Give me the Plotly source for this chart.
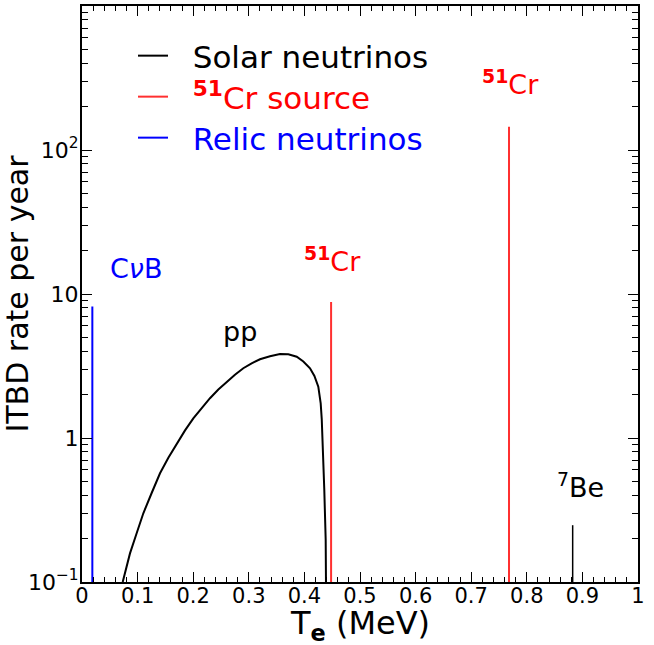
import math
import plotly.graph_objects as go

# pp solar neutrino spectrum (T_e in MeV, rate per year)
pp_T = [0.0732, 0.0803, 0.0863, 0.0983, 0.1103, 0.1253, 0.1403, 0.1553, 0.1703, 0.1853,
        0.2002, 0.2152, 0.2302, 0.2452, 0.2603, 0.2751, 0.2901, 0.3051, 0.3201, 0.3381,
        0.3561, 0.3711, 0.3862, 0.3981, 0.4101, 0.4180, 0.4250, 0.4293, 0.4312,
        0.4329, 0.4358, 0.4383, 0.4388]
pp_rate = [0.100, 0.128, 0.158, 0.218, 0.300, 0.415, 0.569, 0.730, 0.918, 1.13,
           1.37, 1.62, 1.89, 2.17, 2.46, 2.75, 3.05, 3.30, 3.52, 3.70,
           3.83, 3.82, 3.67, 3.40, 3.05, 2.70, 2.27, 1.74, 1.35,
           0.97, 0.435, 0.196, 0.100]

be7_T = 0.8825
be7_rate = 0.248

cr_T = [0.448, 0.768]
cr_rate = [8.8, 145.0]

cnb_T = 0.0186
cnb_rate = 8.2

floor = 0.1

FONT = "DejaVu Sans"

fig = go.Figure()

fig.add_trace(go.Scatter(x=pp_T, y=pp_rate, mode="lines",
                         line=dict(color="black", width=2),
                         name="&nbsp;&nbsp;Solar neutrinos", legend="legend"))
fig.add_trace(go.Scatter(x=[be7_T, be7_T], y=[floor, be7_rate], mode="lines",
                         line=dict(color="black", width=1.5),
                         showlegend=False))

cx, cy = [], []
for t, r in zip(cr_T, cr_rate):
    cx += [t, t, None]
    cy += [floor, r, None]
fig.add_trace(go.Scatter(x=cx, y=cy, mode="lines",
                         line=dict(color="#ff3030", width=2),
                         name="&nbsp;&nbsp;<span style='color:red'><sup><b>51</b></sup>Cr source</span>",
                         legend="legend2"))
fig.add_trace(go.Scatter(x=[cnb_T, cnb_T], y=[floor, cnb_rate], mode="lines",
                         line=dict(color="blue", width=2),
                         name="&nbsp;&nbsp;<span style='color:blue'>Relic neutrinos</span>",
                         legend="legend3"))

ann_font = dict(family=FONT, size=27)
annotations = [
    dict(x=0.097, y=15.1, text="C<i>ν</i>B", font=dict(ann_font, color="blue")),
    dict(x=0.4505, y=17.3, text="<sup><b>51</b></sup>Cr", font=dict(ann_font, color="red")),
    dict(x=0.7707, y=292, text="<sup><b>51</b></sup>Cr", font=dict(ann_font, color="red")),
    dict(x=0.285, y=5.45, text="pp", font=dict(ann_font, color="black")),
    dict(x=0.897, y=0.467, text="<sup>7</sup>Be", font=dict(ann_font, color="black")),
]
for a in annotations:
    a.update(xref="x", yref="y", showarrow=False, xanchor="center", yanchor="middle")
    a["y"] = math.log10(a["y"])

# x-axis title
annotations.append(dict(text="T<sub><b>e</b></sub> (MeV)", xref="paper", yref="paper",
                        x=0.5, y=0, xanchor="center", yanchor="top", yshift=-20,
                        showarrow=False, font=dict(family=FONT, size=32, color="black")))

minor_y = [m * 10 ** e for e in range(-1, 3) for m in range(2, 10)]

PLOT_T, PLOT_B = 6, 582
def py(ypix):
    return (PLOT_B - ypix) / (PLOT_B - PLOT_T)

leg_common = dict(x=(133 - 82) / 556, xanchor="left", yanchor="middle",
                  font=dict(family=FONT, size=31, color="black"),
                  bgcolor="rgba(0,0,0,0)", borderwidth=0, itemwidth=30)

fig.update_layout(
    width=654, height=645,
    margin=dict(l=82, r=16, t=PLOT_T, b=645 - PLOT_B),
    plot_bgcolor="white", paper_bgcolor="white",
    font=dict(family=FONT, size=22, color="black"),
    annotations=annotations,
    showlegend=True,
    legend=dict(leg_common, y=py(56)),
    legend2=dict(leg_common, y=py(97)),
    legend3=dict(leg_common, y=py(138)),
)

fig.update_xaxes(
    range=[0, 1], dtick=0.1, tick0=0, automargin=False,
    ticks="inside", ticklen=10, tickwidth=1, tickcolor="black",
    minor=dict(ticks="inside", ticklen=5, tickwidth=1, dtick=0.02, tick0=0, showgrid=False),
    showline=True, linecolor="black", linewidth=2, mirror="ticks",
    showgrid=False, zeroline=False,
    tickfont=dict(family=FONT, size=21), ticklabelstandoff=-6,
)
fig.update_yaxes(
    type="log", range=[-1, 3], automargin=False,
    tickmode="array", tickvals=[0.1, 1, 10, 100],
    ticktext=["10<sup>−1</sup>", "1", "10", "10<sup>2</sup>"],
    ticks="inside", ticklen=10, tickwidth=1, tickcolor="black",
    minor=dict(ticks="inside", ticklen=6, tickwidth=1, tickmode="array",
               tickvals=minor_y, showgrid=False),
    showline=True, linecolor="black", linewidth=2, mirror="ticks",
    showgrid=False, zeroline=False,
    tickfont=dict(family=FONT, size=22), ticklabelstandoff=-3,
    title=dict(text="ITBD rate per year", font=dict(family=FONT, size=30)),
)

fig.write_html("out.html", config={"displayModeBar": False},
               post_script="document.body.style.margin='0';document.body.style.overflow='hidden';")
